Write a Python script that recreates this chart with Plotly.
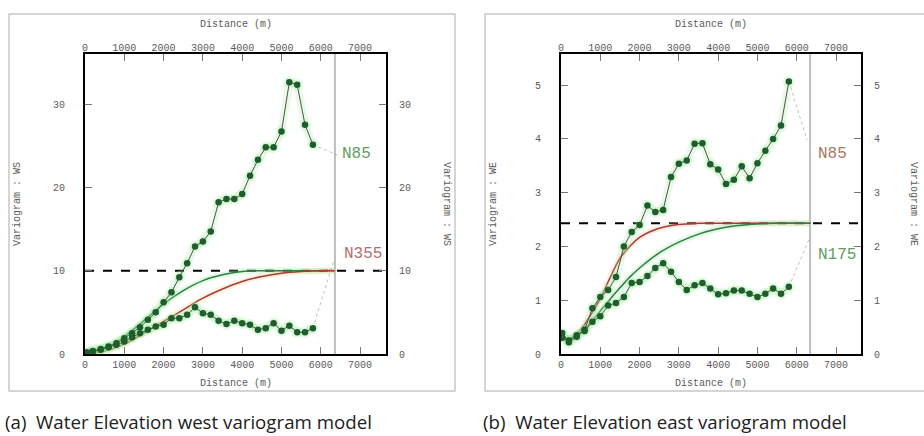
import plotly.graph_objects as go

# ---------------- data ----------------
LAGS = [50, 200, 400, 600, 800, 1000, 1200, 1400, 1600, 1800, 2000, 2200, 2400, 2600, 2800,
        3000, 3200, 3400, 3600, 3800, 4000, 4200, 4400, 4600, 4800, 5000, 5200, 5400, 5600, 5800]
LAGS_E = [30] + LAGS[1:]

west_n85 = [0.2, 0.35, 0.6, 0.9, 1.3, 1.9, 2.5, 3.2, 4.1, 5.0, 6.2, 7.4, 9.2, 10.9, 12.9,
            13.5, 14.7, 18.2, 18.6, 18.6, 19.2, 21.4, 23.3, 24.8, 24.8, 26.7, 32.6, 32.3, 27.5, 25.1]
west_n355 = [0.1, 0.3, 0.5, 0.8, 1.1, 1.5, 2.0, 2.5, 2.9, 3.3, 3.5, 4.3, 4.3, 4.7, 5.6,
             4.9, 4.7, 4.0, 3.6, 4.0, 3.7, 3.5, 2.9, 3.1, 3.7, 2.8, 3.4, 2.6, 2.6, 3.1]

east_n85 = [0.39, 0.22, 0.32, 0.45, 0.85, 1.06, 1.19, 1.43, 2.0, 2.27, 2.4, 2.76, 2.64, 2.68, 3.29,
            3.54, 3.6, 3.91, 3.92, 3.53, 3.43, 3.16, 3.24, 3.49, 3.27, 3.55, 3.78, 4.0, 4.25, 5.07]
east_n175 = [0.3, 0.25, 0.35, 0.43, 0.6, 0.7, 0.9, 0.95, 1.06, 1.32, 1.34, 1.45, 1.6, 1.69, 1.53,
             1.34, 1.19, 1.28, 1.32, 1.22, 1.11, 1.13, 1.18, 1.18, 1.12, 1.06, 1.12, 1.22, 1.12, 1.25]

# model curves
west_model_d = [0, 500, 1000, 1500, 2000, 2500, 3000, 3500, 4000, 4500, 5000, 5500, 6000, 6350]
west_model_green = [0, 0.6, 2.1, 4.0, 6.0, 7.6, 8.8, 9.5, 9.9, 10.0, 10.0, 10.0, 10.0, 10.0]
west_model_red = [0, 0.35, 1.2, 2.5, 3.9, 5.3, 6.7, 7.8, 8.7, 9.3, 9.7, 9.9, 10.0, 10.0]

east_model_d = [0, 250, 500, 750, 1000, 1250, 1500, 1750, 2000, 2500, 3000, 3500, 4000, 4500, 5000, 5500, 6350]
east_model_red = [0.3, 0.3, 0.45, 0.72, 1.03, 1.42, 1.78, 2.0, 2.17, 2.34, 2.41, 2.43, 2.43, 2.43, 2.43, 2.43, 2.43]
east_model_green = [0.3, 0.3, 0.4, 0.58, 0.8, 1.02, 1.23, 1.43, 1.6, 1.88, 2.08, 2.23, 2.33, 2.39, 2.42, 2.43, 2.43]

west_sill = 10.0
east_sill = 2.43
west_cutoff = 6360
east_cutoff = 6340

x_ticks = [0, 1000, 2000, 3000, 4000, 5000, 6000, 7000]
west_y_ticks = [0, 10, 20, 30]
east_y_ticks = [0, 1, 2, 3, 4, 5]

# labels: (text, x, y, colour) and connector end points
west_labels = [("N85", 6920, 24.0, "#5f9d5f"), ("N355", 7070, 12.0, "#b07070")]
east_labels = [("N85", 6900, 3.72, "#a87860"), ("N175", 7030, 1.84, "#5f9d5f")]
west_conn_end = [(6420, 23.9), (6330, 11.2)]
east_conn_end = [(6260, 3.98), (6340, 2.18)]

captions = ["(a)  Water Elevation west variogram model", "(b)  Water Elevation east variogram model"]
y_titles = ["Variogram : WS", "Variogram : WE"]

# ---------------- figure ----------------
W, H = 924, 436
fig = go.Figure()

MONO = "Liberation Mono"
GRAY = "#5a5a5a"

panels = [
    dict(xa="x", ya="y", xt="x2", yr="y2", x0=85, x1=386, xr=[0, 7660], yrng=[0, 36.0],
         obs=[(LAGS, west_n85), (LAGS, west_n355)], md=west_model_d,
         models=[(west_model_green, "#2e7d4a", "rgba(140,230,140,0.25)"),
                 (west_model_red, "#a83a3a", "rgba(240,200,120,0.25)")],
         sill=west_sill, cut=west_cutoff, yt=west_y_ticks, labels=west_labels,
         conn=west_conn_end, box=(9, 455), ytitle_l=17, ytitle_r=447, cap_x=3),
    dict(xa="x3", ya="y3", xt="x4", yr="y4", x0=561, x1=861, xr=[0, 7636], yrng=[0, 5.58],
         obs=[(LAGS_E, east_n85), (LAGS_E, east_n175)], md=east_model_d,
         models=[(east_model_red, "#a83a3a", "rgba(240,190,150,0.25)"),
                 (east_model_green, "#2e7d4a", "rgba(140,230,140,0.25)")],
         sill=east_sill, cut=east_cutoff, yt=east_y_ticks, labels=east_labels,
         conn=east_conn_end, box=(485, 934), ytitle_l=493, ytitle_r=914, cap_x=481),
]

y_top_px, y_bot_px = 54, 354
ydom = [1 - y_bot_px / H, 1 - y_top_px / H]


def paper_note(px, py, text, font, angle=0, xanchor="center"):
    fig.add_annotation(x=px / W, y=1 - py / H, xref="paper", yref="paper", text=text,
                       textangle=angle, showarrow=False, xanchor=xanchor, yanchor="middle",
                       font=font)


layout_axes = {}
for i, p in enumerate(panels):
    xd = [p["x0"] / W, p["x1"] / W]
    n_x = p["xa"][1:] or ""
    n_y = p["ya"][1:] or ""
    n_xt = p["xt"][1:]
    n_yr = p["yr"][1:]
    common = dict(ticks="inside", ticklen=7, tickcolor="#777", tickwidth=1, showgrid=False,
                  zeroline=False, automargin=False, color=GRAY,
                  tickfont=dict(family=MONO, size=10, color=GRAY))
    layout_axes["xaxis" + n_x] = dict(
        domain=xd, range=p["xr"], anchor=p["ya"], tickvals=x_ticks, showline=True,
        linecolor="black", linewidth=2, mirror=True, **common)
    layout_axes["xaxis" + n_xt] = dict(
        overlaying=p["xa"], side="top", range=p["xr"], anchor=p["yr"], tickvals=x_ticks,
        showline=False, **common)
    layout_axes["yaxis" + n_y] = dict(
        domain=ydom, range=p["yrng"], anchor=p["xa"], tickvals=p["yt"], showline=True,
        linecolor="black", linewidth=2, mirror=True, ticklabelstandoff=16, **common)
    layout_axes["yaxis" + n_yr] = dict(
        overlaying=p["ya"], side="right", range=p["yrng"], anchor=p["xt"], tickvals=p["yt"],
        showline=False, ticklabelstandoff=12, **common)

    # dummy trace so the top/right axes are drawn
    fig.add_trace(go.Scatter(x=[p["xr"][0]], y=[p["yrng"][0]], xaxis=p["xt"], yaxis=p["yr"],
                             mode="markers", marker=dict(opacity=0), hoverinfo="skip",
                             showlegend=False))

    # cut-off vertical line
    fig.add_trace(go.Scatter(x=[p["cut"], p["cut"]], y=p["yrng"], xaxis=p["xa"], yaxis=p["ya"],
                             mode="lines", line=dict(color="#bdbdbd", width=2), hoverinfo="skip",
                             showlegend=False))

    # sill dashed line
    fig.add_trace(go.Scatter(x=[0, p["xr"][1]], y=[p["sill"], p["sill"]], xaxis=p["xa"], yaxis=p["ya"],
                             mode="lines", line=dict(color="black", width=2, dash="dash"),
                             hoverinfo="skip", showlegend=False))

    # model halos and curves
    for vals, col, halo in p["models"]:
        fig.add_trace(go.Scatter(x=p["md"], y=vals, xaxis=p["xa"], yaxis=p["ya"], mode="lines",
                                 line=dict(color=halo, width=6, shape="spline"), hoverinfo="skip",
                                 showlegend=False))
    for vals, col, halo in p["models"]:
        fig.add_trace(go.Scatter(x=p["md"], y=vals, xaxis=p["xa"], yaxis=p["ya"], mode="lines",
                                 line=dict(color=col, width=1.5, shape="spline"), hoverinfo="skip",
                                 showlegend=False))

    # connectors (dotted) from last point to label
    for (d, v), (lt, lx, ly, lc), (ex, ey) in zip(p["obs"], p["labels"], p["conn"]):
        fig.add_trace(go.Scatter(x=[d[-1], ex], y=[v[-1], ey], xaxis=p["xa"], yaxis=p["ya"],
                                 mode="lines", line=dict(color=lc, width=1, dash="dot"),
                                 opacity=0.5, hoverinfo="skip", showlegend=False))

    # experimental variograms: halo + points
    for d, v in p["obs"]:
        fig.add_trace(go.Scatter(x=d, y=v, xaxis=p["xa"], yaxis=p["ya"], mode="lines+markers",
                                 line=dict(color="rgba(150,235,150,0.22)", width=8),
                                 marker=dict(size=12, color="rgba(150,235,150,0.22)"),
                                 hoverinfo="skip", showlegend=False))
    for d, v in p["obs"]:
        fig.add_trace(go.Scatter(x=d, y=v, xaxis=p["xa"], yaxis=p["ya"], mode="lines+markers",
                                 line=dict(color="#5a4a4a", width=1),
                                 marker=dict(size=6.5, color="#1f5c2e"),
                                 hoverinfo="skip", showlegend=False))

    # direction labels
    for lt, lx, ly, lc in p["labels"]:
        fig.add_annotation(x=lx, y=ly, xref=p["xa"], yref=p["ya"], text=lt, showarrow=False,
                           xanchor="center", yanchor="middle",
                           font=dict(family=MONO, size=16, color=lc))

    # axis titles
    xc = (p["x0"] + p["x1"]) / 2
    tfont = dict(family=MONO, size=10, color=GRAY)
    paper_note(xc, 24, "Distance (m)", tfont)
    paper_note(xc, 383, "Distance (m)", tfont)
    paper_note(p["ytitle_l"], 204, y_titles[i], tfont, angle=-90)
    paper_note(p["ytitle_r"], 204, y_titles[i], tfont, angle=90)

    # panel frame
    fig.add_shape(type="rect", xref="paper", yref="paper", x0=p["box"][0] / W, x1=p["box"][1] / W,
                  y0=1 - 391 / H, y1=1 - 14 / H, line=dict(color="#c8c8c8", width=1.5))

    # caption
    paper_note(p["cap_x"], 421, captions[i],
               dict(family="Open Sans", size=18.7, color="#222222"), xanchor="left")

fig.update_layout(width=W, height=H, margin=dict(l=0, r=0, t=0, b=0, autoexpand=False),
                  plot_bgcolor="white", paper_bgcolor="white", showlegend=False, **layout_axes)

fig.write_html("out.html", config={"displayModeBar": False},
               post_script="document.body.style.margin='0';document.body.style.padding='0';")
